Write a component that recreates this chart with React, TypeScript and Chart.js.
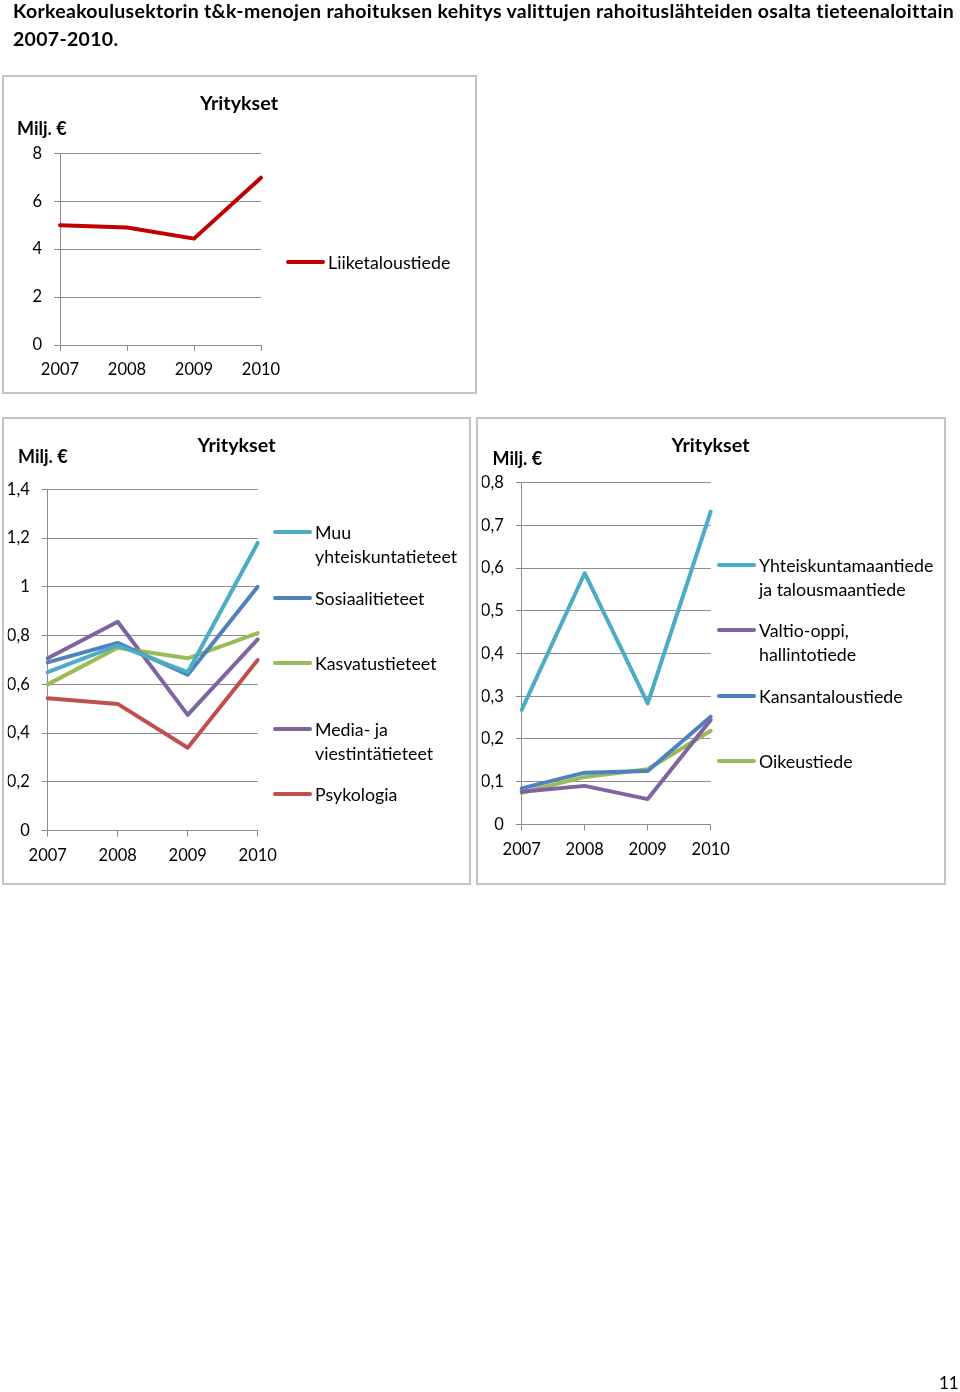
import React, { useEffect, useRef } from "react";
import { Chart, registerables } from "chart.js";

Chart.register(...registerables);

const FONT = "Lato, 'Open Sans', sans-serif";

const years = ["2007", "2008", "2009", "2010"];

// Chart 1
const liiketaloustiede = [5.0, 4.9, 4.44, 6.98];

// Chart 2
const muuYhteiskunta = [0.65, 0.76, 0.65, 1.18];
const sosiaalitieteet = [0.69, 0.77, 0.64, 1.0];
const kasvatustieteet = [0.6, 0.75, 0.707, 0.81];
const mediaViestinta = [0.707, 0.857, 0.475, 0.785];
const psykologia = [0.543, 0.52, 0.34, 0.7];

// Chart 3
const yhteiskuntamaantiede = [0.268, 0.588, 0.283, 0.732];
const valtioOppi = [0.076, 0.09, 0.059, 0.244];
const kansantaloustiede = [0.084, 0.121, 0.125, 0.252];
const oikeustiede = [0.074, 0.111, 0.129, 0.219];

const C_DARKRED = "#C00000";
const C_RED = "#C0504D";
const C_BLUE = "#4F81BD";
const C_GREEN = "#9BBB59";
const C_PURPLE = "#8064A2";
const C_AQUA = "#4BACC6";

type Series = { label: string; data: number[]; color: string };
type Rect = { x: number; y: number; w: number; h: number };
type LegendItem = { lines: string[]; color: string; y: number };

interface ChartBoxProps {
  box: Rect;
  plot: { left: number; right: number; top: number; bottom: number };
  series: Series[];
  yMax: number;
  yStep: number;
  titlePos: { x: number; y: number };
  miljPos: { x: number; y: number };
  legendLineX: number;
  legendTextX: number;
  legend: LegendItem[];
}

const YW = 40;
const XH = 36;

function fmt(v: number) {
  const r = Math.round(v * 10) / 10;
  return String(r).replace(".", ",");
}

function ChartBox(p: ChartBoxProps) {
  const ref = useRef<HTMLCanvasElement | null>(null);
  const cl = p.box.x + 2;
  const ct = p.box.y + 2;
  const cw = p.box.w - 4;
  const ch = p.box.h - 4;

  useEffect(() => {
    if (!ref.current) return;
    const padLeft = p.plot.left - cl - YW;
    const padRight = cl + cw - p.plot.right;
    const padTop = p.plot.top - ct;
    const padBottom = ct + ch - p.plot.bottom - XH;
    const chart = new Chart(ref.current, {
      type: "line",
      data: {
        labels: years,
        datasets: p.series.map((s) => ({
          label: s.label,
          data: s.data,
          borderColor: s.color,
          backgroundColor: s.color,
          borderWidth: 4,
          pointRadius: 0,
          tension: 0,
          borderJoinStyle: "round" as const,
          borderCapStyle: "round" as const,
          clip: false as any,
        })),
      },
      options: {
        animation: false,
        responsive: false,
        maintainAspectRatio: false,
        layout: {
          padding: { left: padLeft, right: padRight, top: padTop, bottom: padBottom },
        },
        plugins: {
          legend: { display: false },
          title: { display: false },
          tooltip: { enabled: false },
        },
        scales: {
          x: {
            offset: false,
            afterFit: (s: any) => {
              s.height = XH;
            },
            grid: {
              drawOnChartArea: false,
              drawTicks: true,
              tickLength: 6,
              color: "#8c8c8c",
              lineWidth: 1,
            },
            border: { display: true, color: "#8c8c8c", width: 1 },
            ticks: {
              color: "#000",
              padding: 9,
              maxRotation: 0,
              font: { family: FONT, size: 16.5 },
            },
          },
          y: {
            min: 0,
            max: p.yMax,
            afterFit: (s: any) => {
              s.width = YW;
            },
            grid: {
              drawTicks: true,
              tickLength: 6,
              color: "#8c8c8c",
              lineWidth: 1,
            },
            border: { display: true, color: "#8c8c8c", width: 1 },
            ticks: {
              stepSize: p.yStep,
              color: "#000",
              padding: 12,
              font: { family: FONT, size: 16.5 },
              callback: (v: any) => fmt(Number(v)),
            },
          },
        },
      },
    });
    return () => chart.destroy();
  }, []);

  return (
    <>
      <div
        style={{
          position: "absolute",
          left: p.box.x,
          top: p.box.y,
          width: p.box.w,
          height: p.box.h,
          boxSizing: "border-box",
          border: "2px solid #c4c4c4",
        }}
      />
      <canvas
        ref={ref}
        width={cw}
        height={ch}
        style={{ position: "absolute", left: cl, top: ct, width: cw, height: ch }}
      />
      <div
        style={{
          position: "absolute",
          left: p.titlePos.x - 100,
          top: p.titlePos.y - 12,
          width: 200,
          lineHeight: "24px",
          textAlign: "center",
          fontFamily: FONT,
          fontWeight: 700,
          fontSize: 19.7,
          color: "#000",
        }}
      >
        Yritykset
      </div>
      <div
        style={{
          position: "absolute",
          left: p.miljPos.x,
          top: p.miljPos.y - 12,
          lineHeight: "24px",
          fontFamily: FONT,
          fontWeight: 700,
          fontSize: 18,
          color: "#000",
          whiteSpace: "nowrap",
        }}
      >
        Milj. €
      </div>
      {p.legend.map((l, i) => (
        <React.Fragment key={i}>
          <div
            style={{
              position: "absolute",
              left: p.legendLineX,
              top: l.y - 2,
              width: p.legendTextX - p.legendLineX - 3,
              height: 4,
              background: l.color,
              borderRadius: 2,
            }}
          />
          <div
            style={{
              position: "absolute",
              left: p.legendTextX,
              top: l.y - 12,
              lineHeight: "24px",
              fontFamily: FONT,
              fontSize: 17.8,
              color: "#000",
              whiteSpace: "nowrap",
            }}
          >
            {l.lines.map((t, j) => (
              <div key={j}>{t}</div>
            ))}
          </div>
        </React.Fragment>
      ))}
    </>
  );
}

export default function App() {
  return (
    <div
      style={{
        position: "fixed",
        left: 0,
        top: 0,
        width: 960,
        height: 1392,
        background: "#fff",
      }}
    >
      <div
        style={{
          position: "absolute",
          left: 13,
          top: -3,
          fontFamily: FONT,
          fontWeight: 700,
          fontSize: 19.5,
          letterSpacing: 0.3,
          lineHeight: "28px",
          color: "#000",
          whiteSpace: "nowrap",
        }}
      >
        Korkeakoulusektorin t&amp;k-menojen rahoituksen kehitys valittujen rahoituslähteiden osalta tieteenaloittain
        <br />
        2007-2010.
      </div>

      <ChartBox
        box={{ x: 2, y: 75, w: 475, h: 319 }}
        plot={{ left: 60, right: 261, top: 153.3, bottom: 345 }}
        series={[{ label: "Liiketaloustiede", data: liiketaloustiede, color: C_DARKRED }]}
        yMax={8}
        yStep={2}
        titlePos={{ x: 239, y: 103 }}
        miljPos={{ x: 17, y: 127.5 }}
        legendLineX={286}
        legendTextX={328}
        legend={[{ lines: ["Liiketaloustiede"], color: C_DARKRED, y: 261.5 }]}
      />

      <ChartBox
        box={{ x: 2, y: 417, w: 469, h: 468 }}
        plot={{ left: 47.7, right: 257.7, top: 489.3, bottom: 830.7 }}
        series={[
          { label: "Muu yhteiskuntatieteet", data: muuYhteiskunta, color: C_AQUA },
          { label: "Sosiaalitieteet", data: sosiaalitieteet, color: C_BLUE },
          { label: "Kasvatustieteet", data: kasvatustieteet, color: C_GREEN },
          { label: "Media- ja viestintätieteet", data: mediaViestinta, color: C_PURPLE },
          { label: "Psykologia", data: psykologia, color: C_RED },
        ]}
        yMax={1.4}
        yStep={0.2}
        titlePos={{ x: 236.5, y: 444.5 }}
        miljPos={{ x: 18, y: 455.5 }}
        legendLineX={272.5}
        legendTextX={315}
        legend={[
          { lines: ["Muu", "yhteiskuntatieteet"], color: C_AQUA, y: 532 },
          { lines: ["Sosiaalitieteet"], color: C_BLUE, y: 597.5 },
          { lines: ["Kasvatustieteet"], color: C_GREEN, y: 662.5 },
          { lines: ["Media- ja", "viestintätieteet"], color: C_PURPLE, y: 729 },
          { lines: ["Psykologia"], color: C_RED, y: 794 },
        ]}
      />

      <ChartBox
        box={{ x: 476, y: 417, w: 470, h: 468 }}
        plot={{ left: 521.7, right: 710.7, top: 482.7, bottom: 824.3 }}
        series={[
          { label: "Yhteiskuntamaantiede ja talousmaantiede", data: yhteiskuntamaantiede, color: C_AQUA },
          { label: "Valtio-oppi, hallintotiede", data: valtioOppi, color: C_PURPLE },
          { label: "Kansantaloustiede", data: kansantaloustiede, color: C_BLUE },
          { label: "Oikeustiede", data: oikeustiede, color: C_GREEN },
        ]}
        yMax={0.8}
        yStep={0.1}
        titlePos={{ x: 710.5, y: 445 }}
        miljPos={{ x: 492.5, y: 457.5 }}
        legendLineX={716.5}
        legendTextX={759}
        legend={[
          { lines: ["Yhteiskuntamaantiede", "ja talousmaantiede"], color: C_AQUA, y: 565 },
          { lines: ["Valtio-oppi,", "hallintotiede"], color: C_PURPLE, y: 630 },
          { lines: ["Kansantaloustiede"], color: C_BLUE, y: 695.5 },
          { lines: ["Oikeustiede"], color: C_GREEN, y: 760.5 },
        ]}
      />

      <div
        style={{
          position: "absolute",
          left: 939,
          top: 1371,
          fontFamily: FONT,
          fontSize: 17,
          lineHeight: "24px",
          color: "#000",
        }}
      >
        11
      </div>
    </div>
  );
}
